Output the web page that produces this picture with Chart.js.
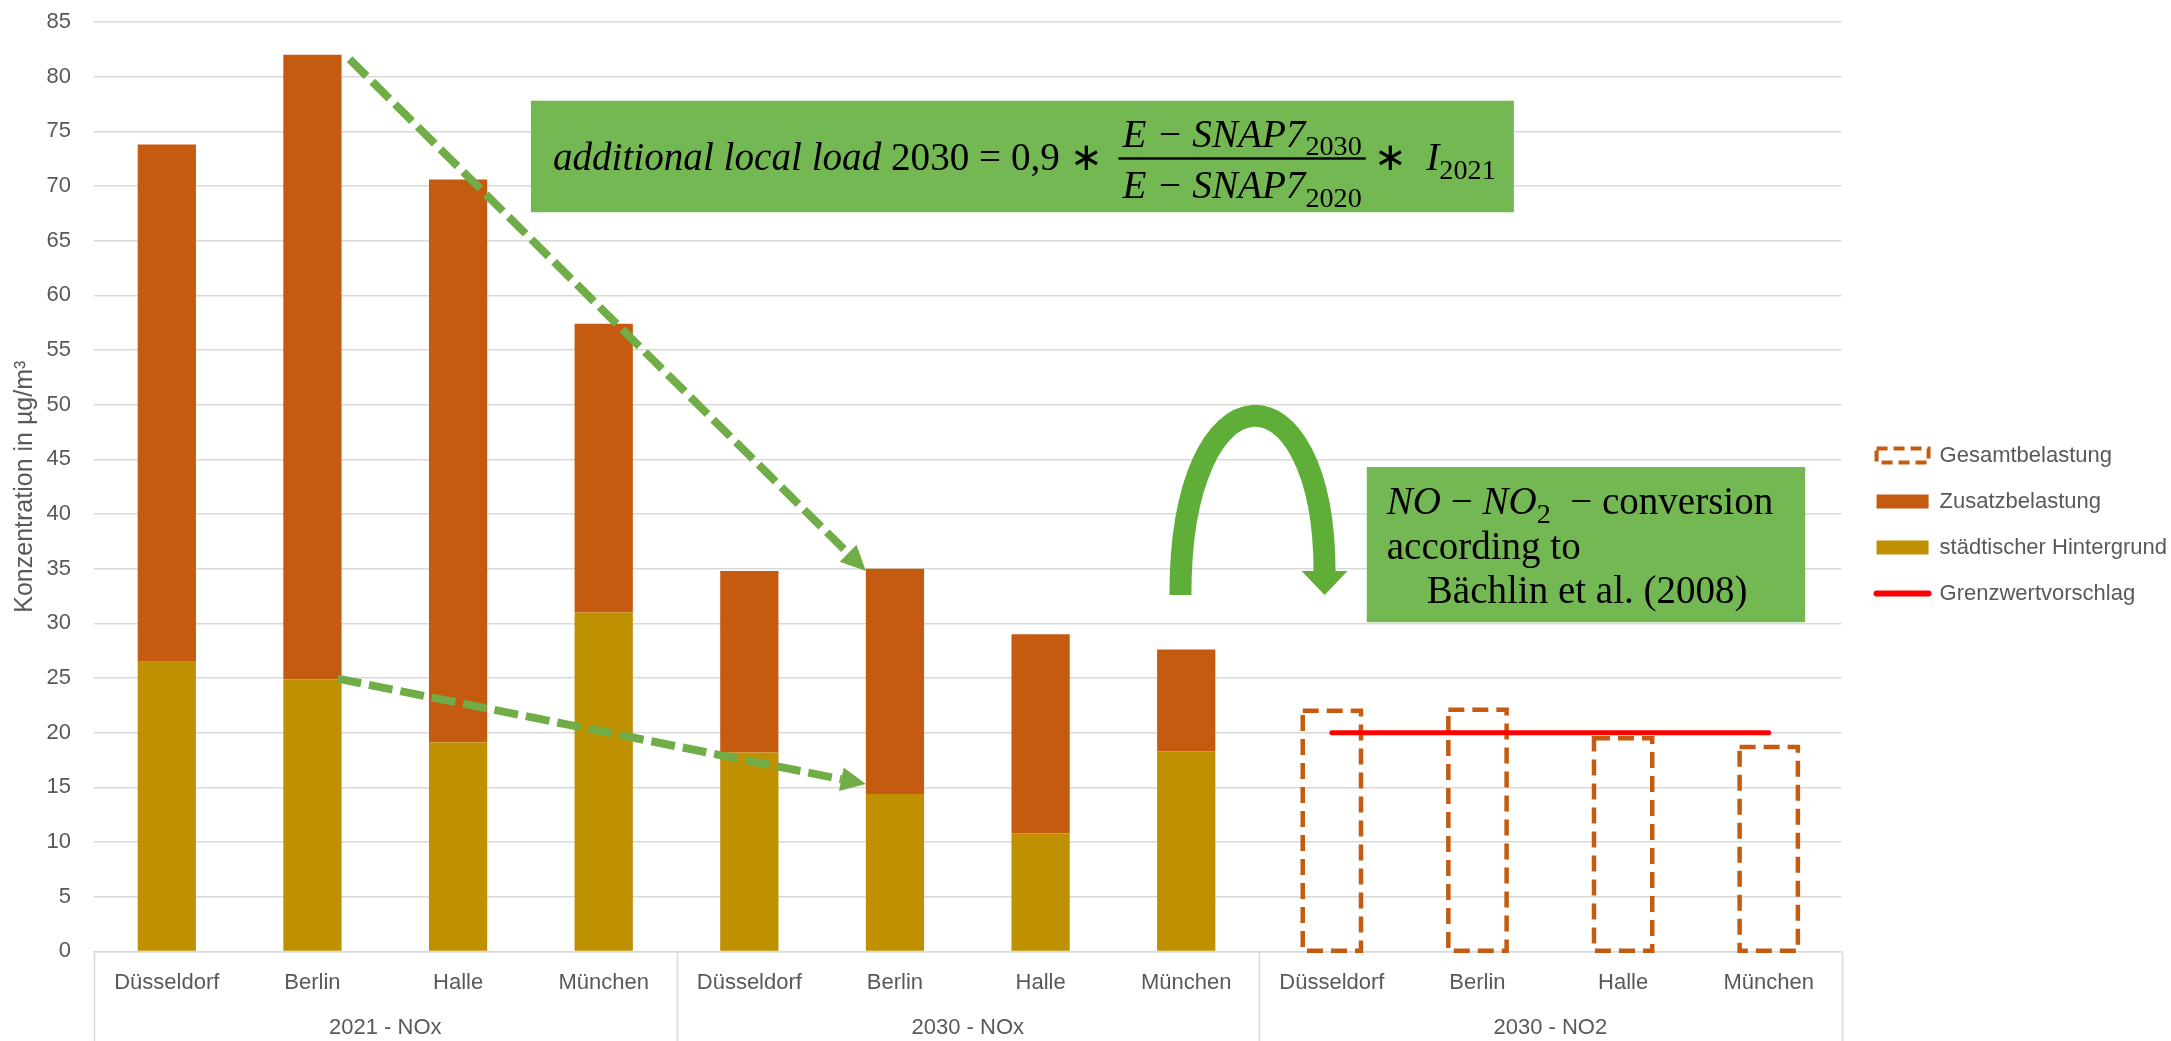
<!DOCTYPE html>
<html>
<head>
<meta charset="utf-8">
<script src="https://cdn.jsdelivr.net/npm/chart.js@4.4.1/dist/chart.umd.min.js"></script>
<style>
  html, body { margin: 0; padding: 0; background: #ffffff; }
  #wrap { width: 2171px; height: 1041px; position: relative; }
</style>
</head>
<body>
<div id="wrap"><canvas id="chart"></canvas></div>
<script>
// ---- data -------------------------------------------------------------
const cities = ['Düsseldorf', 'Berlin', 'Halle', 'München',
                'Düsseldorf', 'Berlin', 'Halle', 'München',
                'Düsseldorf', 'Berlin', 'Halle', 'München'];
const groups = ['2021 - NOx', '2030 - NOx', '2030 - NO2'];

// urban background (bottom of the NOx stacks)
const hintergrund = [26.5, 24.9, 19.1, 31.0, 18.2, 14.4, 10.8, 18.3, null, null, null, null];
// additional local load (top of the NOx stacks)
const zusatz      = [47.3, 57.1, 51.5, 26.4, 16.6, 20.6, 18.2, 9.3, null, null, null, null];
// total NO2 load 2030 (dashed outline bars)
const gesamt      = [null, null, null, null, null, null, null, null, 22.0, 22.1, 19.5, 18.7];
// proposed limit value
const grenzwert   = [null, null, null, null, null, null, null, null, 20, 20, 20, 20];

const yMin = 0, yMax = 85, yStep = 5;

// ---- styling ----------------------------------------------------------
const FONT = '"Liberation Sans", Arial, sans-serif';
const SERIF = '"Liberation Serif", "Times New Roman", serif';
const TXT = '#595959';
const GRID = '#d9d9d9';
const C_ZUSATZ = '#c55a11';
const C_HINTER = '#bf9000';
const C_LIMIT = '#ff0000';
const C_BOX = '#74b853';
const C_ARROW = '#70ad47';
const C_CURVE = '#5fae37';

// ---- drawing helpers for the overlay -----------------------------------
function drawRuns(ctx, x, baseline, parts, size) {
  for (const p of parts) {
    const s = p.sub ? size * 0.72 : size;
    ctx.font = (p.it ? 'italic ' : '') + s + 'px ' + SERIF;
    ctx.fillText(p.t, x, baseline + (p.sub ? size * 0.22 : 0));
    x += ctx.measureText(p.t).width;
  }
  return x;
}
function runsWidth(ctx, parts, size) {
  let w = 0;
  for (const p of parts) {
    const s = p.sub ? size * 0.72 : size;
    ctx.font = (p.it ? 'italic ' : '') + s + 'px ' + SERIF;
    w += ctx.measureText(p.t).width;
  }
  return w;
}
function dashedArrow(ctx, x0, y0, x1, y1, o) {
  const a = Math.atan2(y1 - y0, x1 - x0);
  const bx = x1 - Math.cos(a) * o.head, by = y1 - Math.sin(a) * o.head;
  ctx.save();
  ctx.strokeStyle = o.color; ctx.fillStyle = o.color;
  ctx.lineWidth = o.width; ctx.setLineDash(o.dash); ctx.lineCap = 'butt';
  ctx.beginPath(); ctx.moveTo(x0, y0); ctx.lineTo(bx, by); ctx.stroke();
  ctx.setLineDash([]);
  ctx.beginPath();
  ctx.moveTo(x1, y1);
  ctx.lineTo(bx + Math.sin(a) * o.half, by - Math.cos(a) * o.half);
  ctx.lineTo(bx - Math.sin(a) * o.half, by + Math.cos(a) * o.half);
  ctx.closePath(); ctx.fill();
  ctx.restore();
}

// group separators below the plot, spanning both label rows
const groupSeparators = {
  id: 'groupSeparators',
  afterLayout(chart, args, opts) {
    const lg = chart.legend;
    if (lg) { lg.left += opts.legendDx; lg.right += opts.legendDx; lg.top += opts.legendDy; lg.bottom += opts.legendDy; }
  },
  afterDraw(chart) {
    const x = chart.scales.x, g = chart.scales.x2;
    const w = g.getPixelForValue(1) - g.getPixelForValue(0);
    const start = g.getPixelForValue(0) - w / 2;
    const ctx = chart.ctx;
    ctx.save();
    ctx.strokeStyle = GRID; ctx.lineWidth = 1.5;
    ctx.beginPath();
    for (let i = 0; i <= groups.length; i++) {
      const px = Math.round(start + i * w) + 0.5;
      ctx.moveTo(px, x.top); ctx.lineTo(px, chart.height);
    }
    ctx.stroke();
    ctx.restore();
  }
};

const overlay = {
  id: 'overlay',
  afterDatasetDraw(chart, args, opts) {
    const ds = chart.data.datasets[args.index];
    if (!ds.dashedOutline) return;
    const ctx = chart.ctx;
    ctx.save();
    ctx.strokeStyle = ds.outlineColor;
    ctx.lineWidth = 4.5;
    ctx.setLineDash([16, 8]);
    args.meta.data.forEach((el, i) => {
      if (ds.data[i] == null) return;
      const p = el.getProps(['x', 'y', 'base', 'width'], true);
      ctx.strokeRect(p.x - p.width / 2, p.y, p.width, p.base - p.y);
    });
    ctx.restore();
  },
  afterDatasetsDraw(chart, args, opts) {
    const ctx = chart.ctx;
    const xs = chart.scales.x, ys = chart.scales.y;
    const c0 = xs.getPixelForValue(0);
    const cw = xs.getPixelForValue(1) - c0;
    const px = u => c0 + (u - 0.5) * cw;
    const py = v => ys.getPixelForValue(v);

    // dashed arrows from the 2021 Berlin bar to the 2030 Berlin bar
    const zMeta = chart.getDatasetMeta(1).data;
    const hMeta = chart.getDatasetMeta(0).data;
    const right = el => el.x + el.width / 2;
    const left = el => el.x - el.width / 2;
    const aStyle = { color: C_ARROW, width: 8, dash: [24, 8], head: 25, half: 12 };
    dashedArrow(ctx, right(zMeta[1]) + 8, py(81.6), left(zMeta[5]), py(34.8), aStyle);
    dashedArrow(ctx, right(hMeta[1]) - 4, py(24.95), left(hMeta[5]), py(15.3), aStyle);

    // formula box
    const fb = opts.formulaBox;
    const fx0 = px(fb.u0), fx1 = px(fb.u1), fy0 = py(fb.v0), fy1 = py(fb.v1);
    ctx.save();
    ctx.fillStyle = C_BOX;
    ctx.fillRect(fx0, fy0, fx1 - fx0, fy1 - fy0);
    ctx.fillStyle = '#000';
    ctx.textBaseline = 'alphabetic';
    ctx.textAlign = 'left';
    const mainParts = [{ t: 'additional local load ', it: true }, { t: '2030 = 0,9 ∗ ' }];
    const f = 40 * 560 / runsWidth(ctx, mainParts, 40);
    const barY = (fy0 + fy1) / 2 + 2;
    let x = fx0 + 22;
    x = drawRuns(ctx, x, barY + 0.3 * f, mainParts, f) + 6;
    const num = [{ t: 'E − SNAP7', it: true }, { t: '2030', sub: true }];
    const den = [{ t: 'E − SNAP7', it: true }, { t: '2020', sub: true }];
    const fw = Math.max(runsWidth(ctx, num, f), runsWidth(ctx, den, f)) + 8;
    drawRuns(ctx, x + 4, barY - 0.3 * f, num, f);
    drawRuns(ctx, x + 4, barY + 1.02 * f, den, f);
    ctx.fillRect(x, barY - 1.2, fw, 2.4);
    x += fw + 8;
    drawRuns(ctx, x, barY + 0.3 * f, [{ t: '∗  ' }, { t: 'I', it: true }, { t: '2021', sub: true }], f);
    ctx.restore();

    // conversion box
    const cb = opts.convBox;
    const bx0 = px(cb.u0), bx1 = px(cb.u1), by0 = py(cb.v0), by1 = py(cb.v1);
    ctx.save();
    ctx.fillStyle = C_BOX;
    ctx.fillRect(bx0, by0, bx1 - bx0, by1 - by0);
    ctx.fillStyle = '#000';
    ctx.textBaseline = 'alphabetic';
    const g = 40 * 194 / runsWidth(ctx, [{ t: 'according to' }], 40);
    drawRuns(ctx, bx0 + 20, by0 + 47, [{ t: 'NO', it: true }, { t: ' − ' }, { t: 'NO', it: true }, { t: '2', sub: true }, { t: '  − conversion' }], g);
    drawRuns(ctx, bx0 + 20, by0 + 92, [{ t: 'according to' }], g);
    drawRuns(ctx, bx0 + 60, by0 + 136, [{ t: 'Bächlin et al. (2008)' }], g);
    ctx.restore();

    // curved arrow from the NOx group to the NO2 group
    const ar = opts.arch;
    const sx = px(ar.uStem), tx = px(ar.uTip);
    const yb = py(ar.vBottom), yh = py(ar.vHead), yt = py(ar.vTip), yp = py(ar.vPeak);
    const yc = (yp - 0.125 * (yb + yh)) / 0.75;
    ctx.save();
    ctx.strokeStyle = C_CURVE; ctx.fillStyle = C_CURVE;
    ctx.lineWidth = 22; ctx.lineCap = 'butt';
    ctx.beginPath();
    ctx.moveTo(sx, yb);
    ctx.bezierCurveTo(sx, yc, tx, yc, tx, yh + 2);
    ctx.stroke();
    ctx.beginPath();
    ctx.moveTo(tx - 23, yh); ctx.lineTo(tx + 23, yh); ctx.lineTo(tx, yt);
    ctx.closePath(); ctx.fill();
    ctx.restore();
  }
};

const legendRank = { 'Gesamtbelastung': 0, 'Zusatzbelastung': 1, 'städtischer Hintergrund': 2, 'Grenzwertvorschlag': 3 };

new Chart(document.getElementById('chart'), {
  data: {
    labels: cities,
    datasets: [
      { type: 'bar', label: 'städtischer Hintergrund', data: hintergrund, backgroundColor: C_HINTER, xAxisID: 'x', yAxisID: 'y' },
      { type: 'bar', label: 'Zusatzbelastung', data: zusatz, backgroundColor: C_ZUSATZ, xAxisID: 'x', yAxisID: 'y' },
      { type: 'bar', label: 'Gesamtbelastung', data: gesamt, backgroundColor: 'rgba(0,0,0,0)', dashedOutline: true, outlineColor: C_ZUSATZ, xAxisID: 'x', yAxisID: 'y' },
      { type: 'line', label: 'Grenzwertvorschlag', data: grenzwert, borderColor: C_LIMIT, backgroundColor: C_LIMIT, borderWidth: 5, borderCapStyle: 'round', pointRadius: 0, stack: 'limit', order: -1, xAxisID: 'x', yAxisID: 'y' }
    ]
  },
  options: {
    responsive: true,
    maintainAspectRatio: false,
    animation: false,
    devicePixelRatio: 1,
    layout: { padding: { top: 22, right: 5, bottom: 0, left: 0 } },
    datasets: { bar: { categoryPercentage: 1, barPercentage: 0.4 } },
    scales: {
      x: {
        type: 'category', labels: cities, stacked: true, offset: true,
        grid: { offset: true, drawOnChartArea: false, drawTicks: true, tickLength: 18.8, color: 'rgba(0,0,0,0)' },
        border: { display: true, color: GRID, width: 1.5 },
        ticks: { padding: 0, color: TXT, font: { family: FONT, size: 22 }, autoSkip: false, maxRotation: 0 }
      },
      x2: {
        type: 'category', labels: groups, position: 'bottom', offset: true,
        grid: { offset: true, drawOnChartArea: false, drawTicks: true, tickLength: 18, color: 'rgba(0,0,0,0)' },
        border: { display: false },
        ticks: { padding: 0, color: TXT, font: { family: FONT, size: 22 }, autoSkip: false, maxRotation: 0 }
      },
      y: {
        stacked: true, min: yMin, max: yMax,
        ticks: { stepSize: yStep, padding: 23, color: TXT, font: { family: FONT, size: 22 } },
        grid: { color: GRID, lineWidth: 1.5, drawTicks: false },
        border: { display: false },
        title: { display: true, text: 'Konzentration in µg/m³', color: TXT, font: { family: FONT, size: 25 }, padding: { top: 10, bottom: 0 } },
        afterFit(s) { s.width = 94; s.paddingTop = 0; s.paddingBottom = 0; }
      }
    },
    plugins: {
      tooltip: { enabled: false },
      legend: {
        position: 'right',
        align: 'center',
        labels: {
          usePointStyle: true, pointStyleWidth: 52, boxWidth: 52, boxHeight: 14, padding: 24,
          color: TXT, font: { family: FONT, size: 22 },
          sort: (a, b) => legendRank[a.text] - legendRank[b.text],
          generateLabels(chart) {
            return chart.data.datasets.map((ds, i) => {
              const base = { text: ds.label, datasetIndex: i, hidden: false, fontColor: TXT };
              if (ds.type === 'line') {
                return Object.assign(base, { pointStyle: 'line', strokeStyle: ds.borderColor, fillStyle: ds.borderColor, lineWidth: 6, lineCap: 'round' });
              }
              if (ds.dashedOutline) {
                return Object.assign(base, { pointStyle: 'rect', strokeStyle: ds.outlineColor, fillStyle: '#ffffff', lineWidth: 4, lineDash: [11, 6] });
              }
              return Object.assign(base, { pointStyle: 'rect', strokeStyle: ds.backgroundColor, fillStyle: ds.backgroundColor, lineWidth: 0 });
            });
          }
        }
      },
      groupSeparators: { legendDx: 11, legendDy: -7 },
      overlay: {
        formulaBox: { u0: 3.0, u1: 9.75, v0: 77.8, v1: 67.6 },
        convBox: { u0: 8.74, u1: 11.75, v0: 44.3, v1: 30.1 },
        arch: { uStem: 7.46, uTip: 8.45, vBottom: 32.6, vPeak: 49.0, vHead: 34.8, vTip: 32.6 }
      }
    }
  },
  plugins: [groupSeparators, overlay]
});
</script>
</body>
</html>
